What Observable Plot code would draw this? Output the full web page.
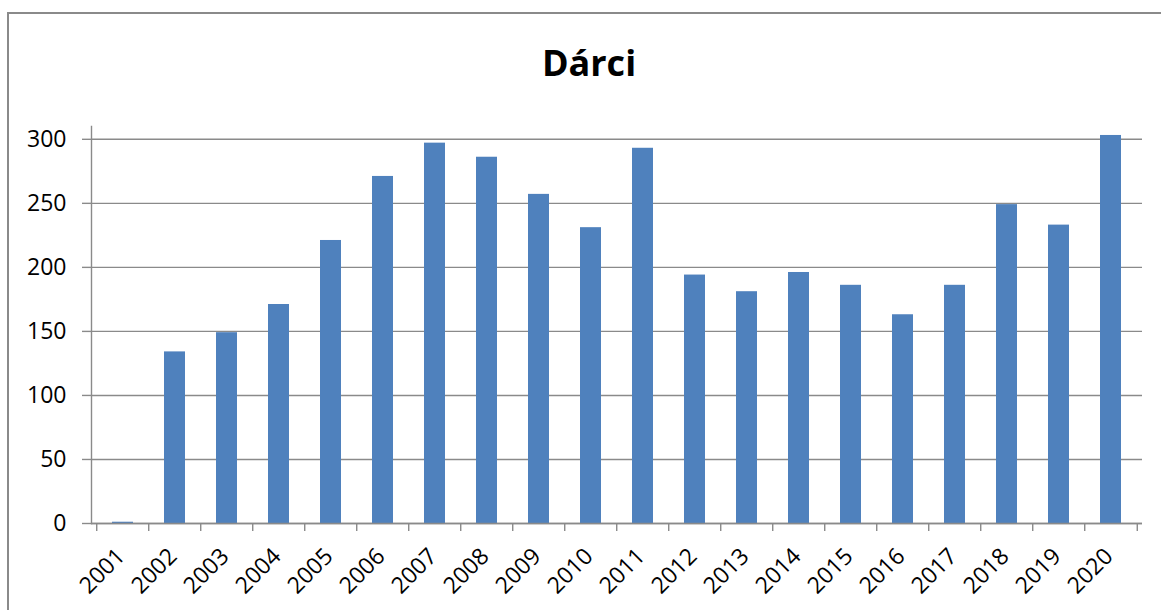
<!DOCTYPE html>
<html><head><meta charset="utf-8">
<script src="https://cdn.jsdelivr.net/npm/d3@7"></script>
<script src="https://cdn.jsdelivr.net/npm/@observablehq/plot@0.6"></script>
<style>
body{margin:0;background:#fff;width:1161px;height:610px;overflow:hidden;position:relative;font-family:"Open Sans",sans-serif;}
#frame{position:absolute;left:7px;top:12px;width:1200px;height:700px;border:2px solid #8a8a8a;}
#title{position:absolute;left:0;width:1178px;top:45px;text-align:center;font-size:36px;font-weight:700;line-height:36px;color:#000;}
#chart{position:absolute;left:0;top:100px;}
</style></head><body>
<div id="frame"></div>
<div id="title">Dárci</div>
<div id="chart"></div>
<script>
const years = ["2001","2002","2003","2004","2005","2006","2007","2008","2009","2010","2011","2012","2013","2014","2015","2016","2017","2018","2019","2020"];
const donors = [1,134,149,171,221,271,297,286,257,231,293,194,181,196,186,163,186,249,233,303];
const yTicks = [0,50,100,150,200,250,300];
const yMax = 310;

const data = years.map((year, i) => ({year, value: donors[i]}));
const W = 1161, H = 510, mL = 91, mR = 19, mT = 26, mB = 87;
const step = (W - mL - mR) / years.length;
const gray = "#8a8a8a";
const fs = 23;

const chart = Plot.plot({
  width: W, height: H,
  marginLeft: mL, marginRight: mR, marginTop: mT, marginBottom: mB,
  style: {fontFamily: "'Open Sans', sans-serif", fontSize: fs + "px", color: "#000", background: "transparent"},
  x: {type: "band", domain: years, paddingInner: 0.6, paddingOuter: 0.3, label: null},
  y: {domain: [0, yMax], label: null},
  marks: [
    Plot.gridY(yTicks, {stroke: gray, strokeOpacity: 1, strokeWidth: 1.4}),
    Plot.barY(data, {x: "year", y: "value", fill: "#4f81bd"}),
    Plot.frame({anchor: "left", stroke: gray, strokeWidth: 1.4}),
    Plot.ruleY([0], {stroke: gray, strokeWidth: 1.4}),
    Plot.axisY({ticks: yTicks, tickSize: 9, tickPadding: 16, stroke: gray, strokeWidth: 1.4, fontSize: fs, label: null}),
    Plot.axisX({tickSize: 8, text: null, dx: -step / 2, stroke: gray, strokeWidth: 1.4, label: null}),
    Plot.axisX({ticks: [years[years.length - 1]], tickSize: 8, text: null, dx: step / 2, stroke: gray, strokeWidth: 1.4, label: null}),
    Plot.axisX({tickSize: 0, tickPadding: 29, tickRotate: -45, fontSize: fs, dx: -2, label: null})
  ]
});
document.getElementById("chart").appendChild(chart);
</script>
</body></html>
